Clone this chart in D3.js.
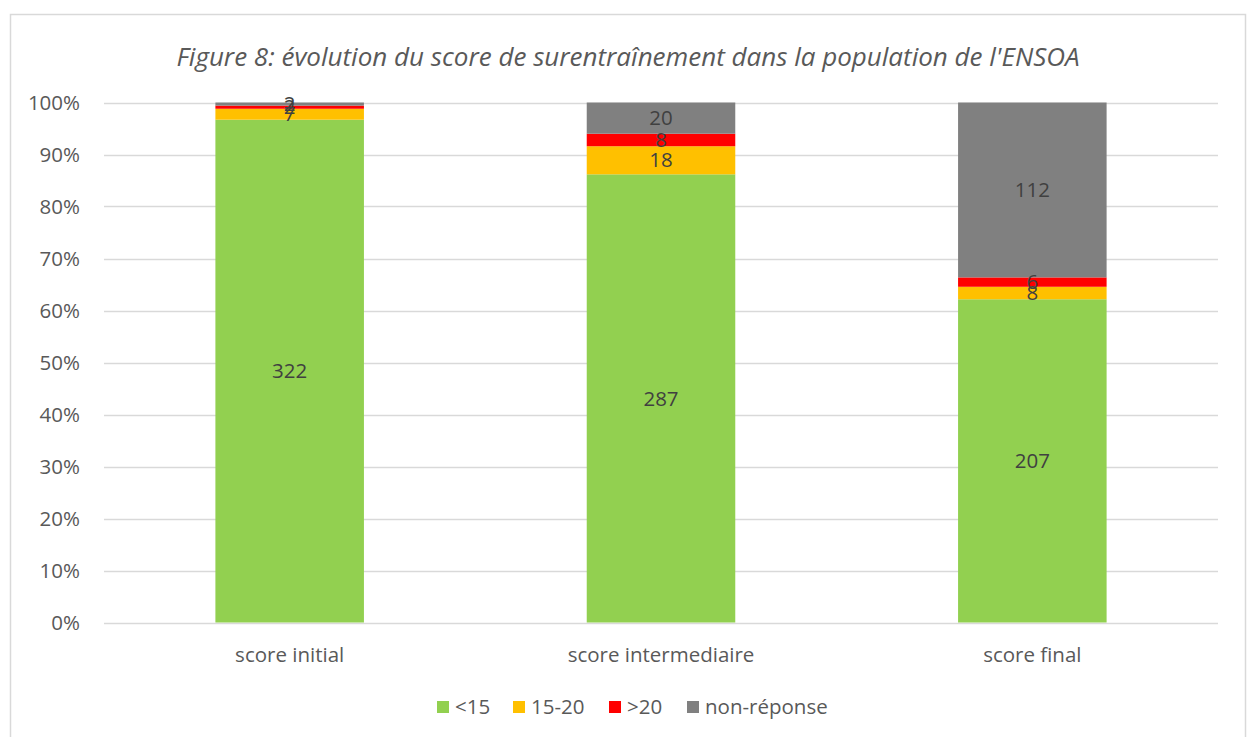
<!DOCTYPE html>
<html><head><meta charset="utf-8">
<script src="https://cdn.jsdelivr.net/npm/d3@7"></script>
<style>body{margin:0;background:#fff;} text{font-family:"Open Sans","Noto Sans",sans-serif;}</style>
</head><body>
<svg id="c" width="1247" height="737"></svg>
<script>
const categories = ["score initial", "score intermediaire", "score final"];
const seriesNames = ["<15", "15-20", ">20", "non-réponse"];
const lt15 = [322, 287, 207];
const s15to20 = [7, 18, 8];
const gt20 = [2, 8, 6];
const nonReponse = [2, 20, 112];
const colors = ["#92d050", "#ffc000", "#ff0000", "#808080"];
const yTicks = [0, 0.1, 0.2, 0.3, 0.4, 0.5, 0.6, 0.7, 0.8, 0.9, 1.0];
const title = "Figure 8: évolution du score de surentraînement dans la population de l'ENSOA";

const svg = d3.select("#c");
svg.append("rect").attr("x", 10.5).attr("y", 14.5).attr("width", 1235).attr("height", 740)
  .attr("fill", "#fff").attr("stroke", "#d9d9d9").attr("stroke-width", 1.5);

const m = {left: 104, right: 1218, top: 102.5, bottom: 622.5};
const x = d3.scaleBand().domain(categories).range([m.left, m.right]).paddingInner(0.6).paddingOuter(0.3);
const y = d3.scaleLinear().domain([0, 1]).range([m.bottom, m.top]);

const rows = categories.map((c, i) => ({cat: c, "<15": lt15[i], "15-20": s15to20[i], ">20": gt20[i], "non-réponse": nonReponse[i]}));
const stacked = d3.stack().keys(seriesNames).offset(d3.stackOffsetExpand)(rows);

// gridlines
svg.append("g").selectAll("line").data(yTicks).join("line")
  .attr("x1", m.left).attr("x2", m.right)
  .attr("y1", d => Math.round(y(d)) + 0.5).attr("y2", d => Math.round(y(d)) + 0.5)
  .attr("stroke", "#d9d9d9").attr("stroke-width", 1.5);

// y labels
svg.append("g").selectAll("text").data(yTicks).join("text")
  .attr("x", 80).attr("y", d => y(d)).attr("dy", "0.35em").attr("text-anchor", "end")
  .attr("font-size", 20.5).attr("fill", "#595959").text(d => d3.format(".0%")(d));

// bars
const g = svg.append("g");
stacked.forEach((s, si) => {
  g.append("g").selectAll("rect").data(s).join("rect")
    .attr("x", d => x(d.data.cat)).attr("width", x.bandwidth())
    .attr("y", d => y(d[1])).attr("height", d => y(d[0]) - y(d[1]))
    .attr("fill", colors[si]);
});
stacked.forEach((s, si) => {
  g.append("g").selectAll("text").data(s).join("text")
    .attr("x", d => x(d.data.cat) + x.bandwidth() / 2)
    .attr("y", d => (y(d[0]) + y(d[1])) / 2).attr("dy", "0.35em")
    .attr("text-anchor", "middle").attr("font-size", 20.5).attr("fill", "#404040")
    .text(d => d.data[s.key]);
});

// x labels
svg.append("g").selectAll("text").data(categories).join("text")
  .attr("x", d => x(d) + x.bandwidth() / 2).attr("y", 655).attr("dy", "0.35em")
  .attr("text-anchor", "middle").attr("font-size", 20.5).attr("fill", "#595959").text(d => d);

// title
svg.append("text").attr("x", 628).attr("y", 57).attr("dy", "0.35em").attr("text-anchor", "middle")
  .attr("font-size", 26).attr("font-style", "italic").attr("fill", "#595959").text(title);

// legend
const legX = [437, 513, 609, 687];
const leg = svg.append("g").selectAll("g").data(seriesNames).join("g")
  .attr("transform", (d, i) => `translate(${legX[i]},707)`);
leg.append("rect").attr("x", 0).attr("y", -6).attr("width", 12).attr("height", 12).attr("fill", (d, i) => colors[i]);
leg.append("text").attr("x", 18).attr("y", 0).attr("dy", "0.35em").attr("font-size", 20.5).attr("fill", "#595959").text(d => d);
</script>
</body></html>
